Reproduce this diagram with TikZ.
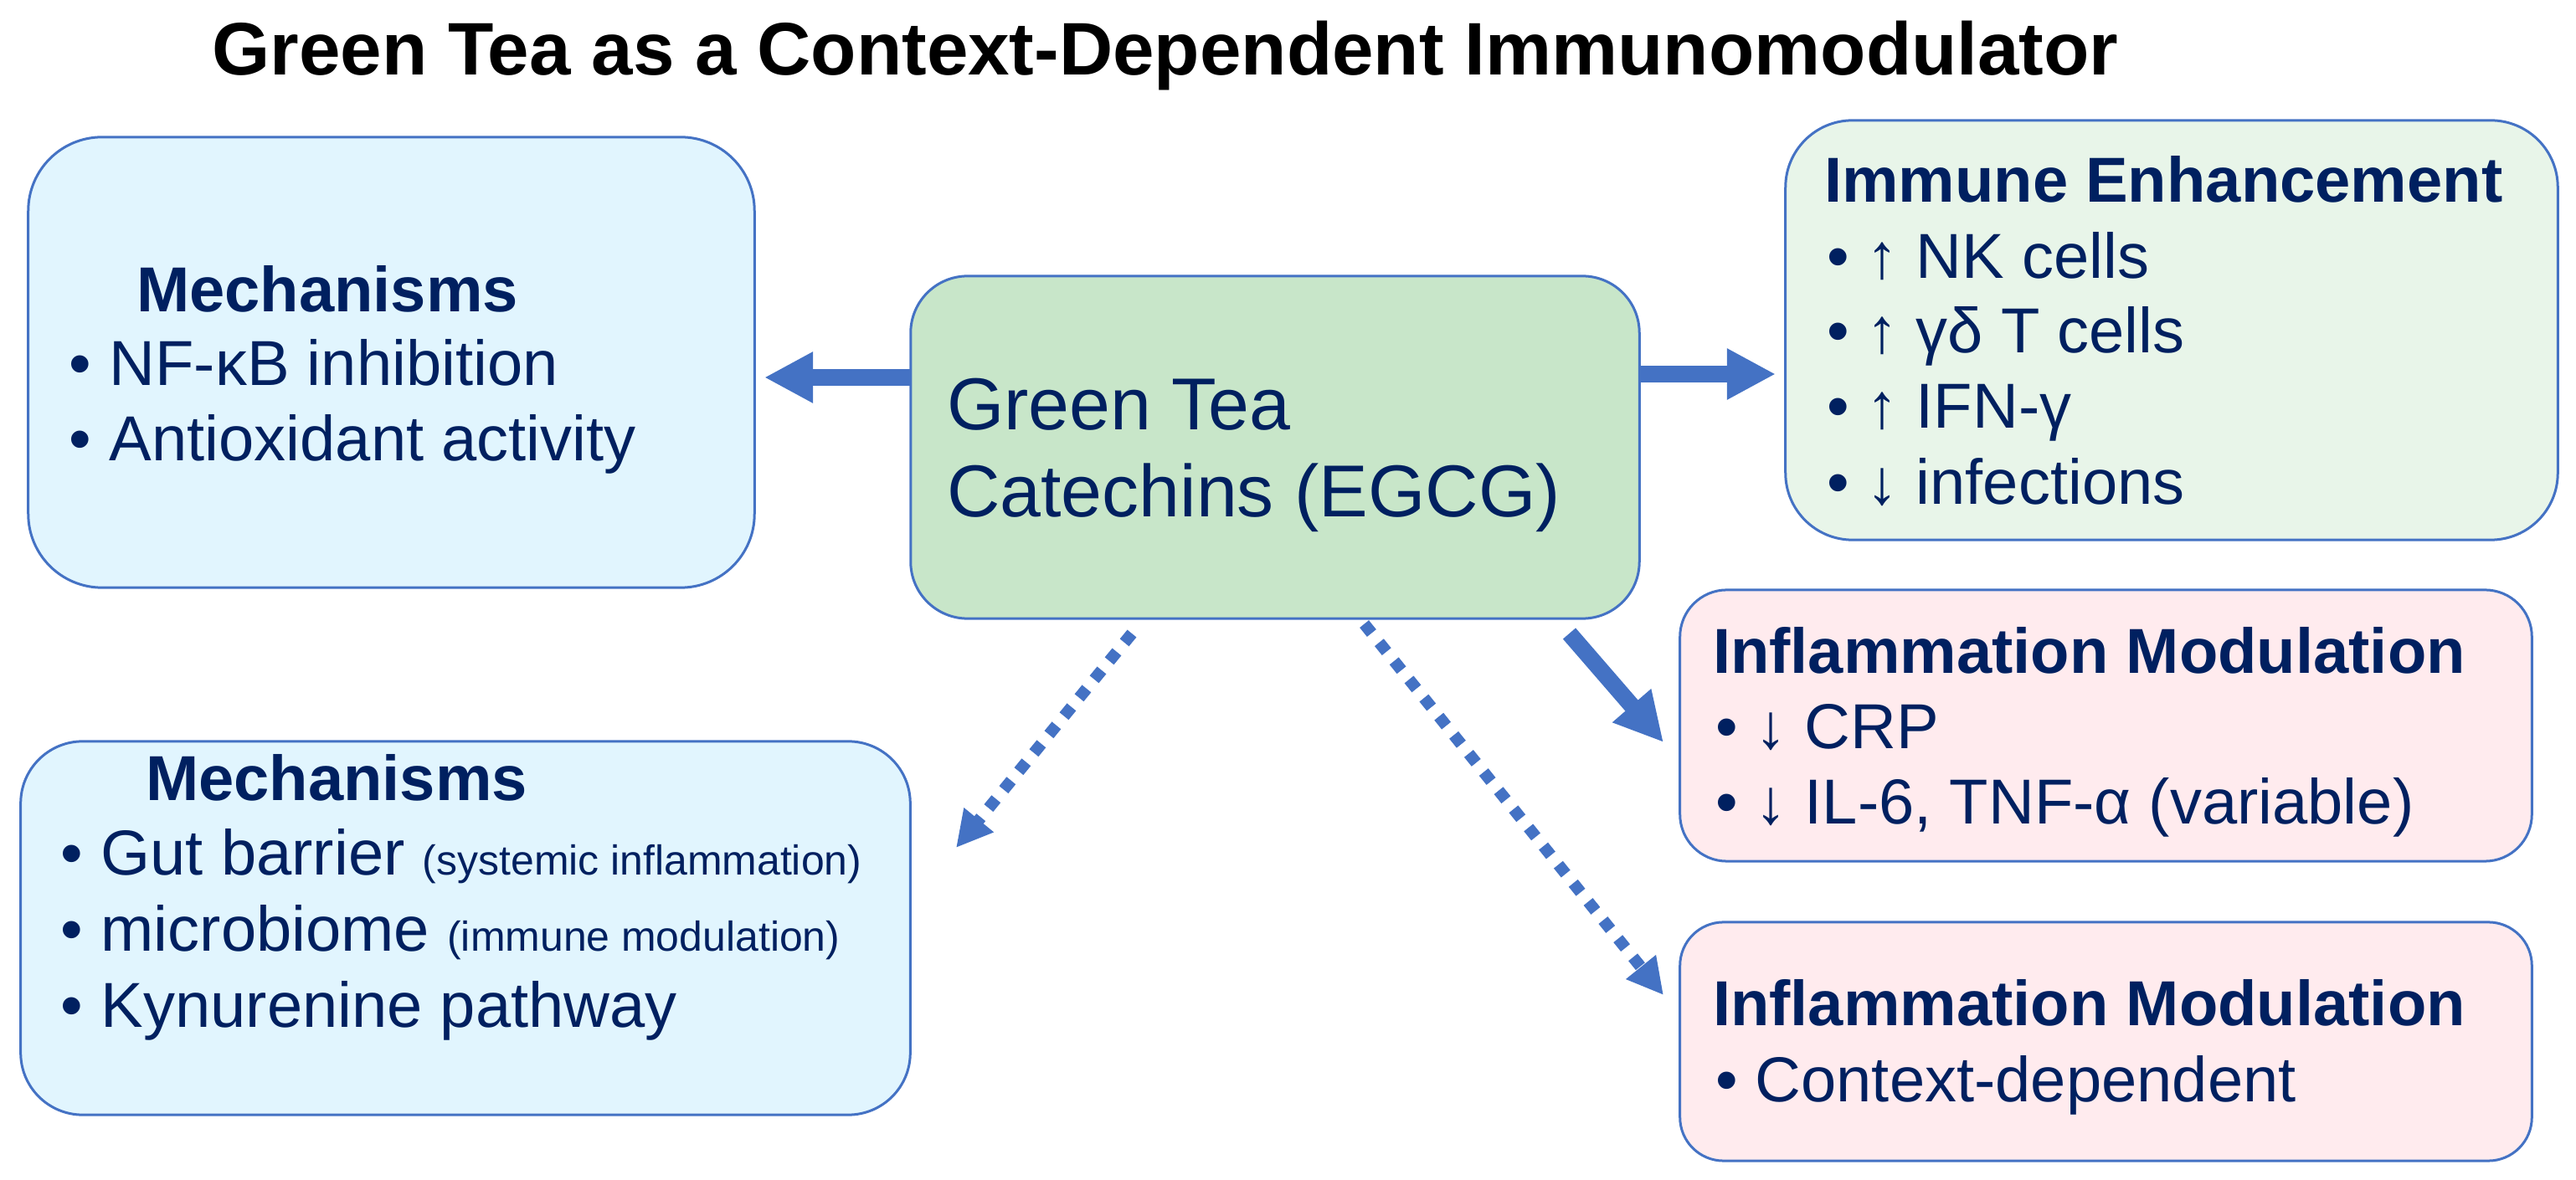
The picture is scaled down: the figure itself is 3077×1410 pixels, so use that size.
\documentclass[tikz,border=0pt]{standalone}
\usepackage{fontspec}
\setmainfont{Liberation Sans}
\usetikzlibrary{arrows.meta}
\definecolor{navy}{HTML}{002060}
\definecolor{bord}{HTML}{4472C4}
\definecolor{fblue}{HTML}{E1F5FE}
\definecolor{fgreen}{HTML}{C8E6C9}
\definecolor{fgreenl}{HTML}{E8F5E9}
\definecolor{fpink}{HTML}{FFEBEE}
\begin{document}
\begin{tikzpicture}[x=0.01cm,y=-0.01cm,
  box/.style={draw=bord, line width=0.03cm, inner sep=0pt, outer sep=0pt},
  txt/.style={anchor=base west, inner sep=0pt, outer sep=0pt, text=navy, font=\fontsize{21.6pt}{26pt}\selectfont},
  hd/.style={txt, font=\fontsize{21.6pt}{26pt}\selectfont\bfseries},
  bigtxt/.style={txt, font=\fontsize{25pt}{30pt}\selectfont},
  solidarrow/.style={draw=bord, line width=0.2cm, -{Triangle[length=0.58cm,width=0.57cm]}},
  dotarrow/.style={draw=bord, line width=0.14cm, dash pattern=on 0.14cm off 0.144cm, -{Triangle[length=0.43cm,width=0.43cm]}}
]
\useasboundingbox[fill=white] (0,0) rectangle (3077,1410);

% title
\node[anchor=base, inner sep=0pt, font=\fontsize{25.3pt}{30pt}\selectfont\bfseries] (title) at (1392,90) {Green Tea as a Context-Dependent Immunomodulator};

% boxes
\node[box, fill=fblue, minimum width=8.67cm, minimum height=5.38cm, rounded corners=0.88cm] (mechTop) at (467.5,433) {};
\node[box, fill=fgreen, minimum width=8.70cm, minimum height=4.09cm, rounded corners=0.68cm] (egcg) at (1523,534.5) {};
\node[box, fill=fgreenl, minimum width=9.22cm, minimum height=5.01cm, rounded corners=0.8cm] (immune) at (2594,394.5) {};
\node[box, fill=fblue, minimum width=10.62cm, minimum height=4.46cm, rounded corners=0.74cm] (mechBot) at (556,1109) {};
\node[box, fill=fpink, minimum width=10.17cm, minimum height=3.24cm, rounded corners=0.56cm] (inflA) at (2515.5,867) {};
\node[box, fill=fpink, minimum width=10.17cm, minimum height=2.85cm, rounded corners=0.52cm] (inflB) at (2515.5,1244.5) {};

% texts: top-left mechanisms
\node[hd] (mtHead) at (163,373) {Mechanisms};
\node[txt] (mt1) at (83,461) {• NF-κB inhibition};
\node[txt] (mt2) at (83,551) {• Antioxidant activity};

% center
\node[bigtxt] (eg1) at (1131,514) {Green Tea};
\node[bigtxt] (eg2) at (1131,618) {Catechins (EGCG)};

% immune enhancement
\node[hd] (imHead) at (2179,242) {Immune Enhancement};
\node[txt] (im1) at (2182,333) {• ↑ NK cells};
\node[txt] (im2) at (2182,422) {• ↑ γδ T cells};
\node[txt] (im3) at (2182,512) {• ↑ IFN-γ};
\node[txt] (im4) at (2182,603) {• ↓ infections};

% bottom-left mechanisms
\node[hd] (mbHead) at (174,957) {Mechanisms};
\node[txt] (mb1) at (73,1046) {• Gut barrier {\fontsize{14.2pt}{17pt}\selectfont (systemic inflammation)}};
\node[txt] (mb2) at (73,1137) {• microbiome {\fontsize{14.2pt}{17pt}\selectfont (immune modulation)}};
\node[txt] (mb3) at (73,1228) {• Kynurenine pathway};

% inflammation modulation A
\node[hd] (iaHead) at (2046,805) {Inflammation Modulation};
\node[txt] (ia1) at (2049,895) {• ↓ CRP};
\node[txt] (ia2) at (2049,985) {• ↓ IL-6, TNF-α (variable)};

% inflammation modulation B
\node[hd] (ibHead) at (2046,1226) {Inflammation Modulation};
\node[txt] (ib1) at (2049,1317) {• Context-dependent};

% connector end points
\coordinate (aL0) at (1088,451);
\coordinate (aL1) at (913,451);
\coordinate (aR0) at (1958,447);
\coordinate (aR1) at (2121,447);
\coordinate (aD0) at (1874.5,757);
\coordinate (aD1) at (1987,887);
\coordinate (dL0) at (1352,757);
\coordinate (dL1) at (1142,1013);
\coordinate (dR0) at (1629.6,745.6);
\coordinate (dR1) at (1987,1189);

% connectors
\draw[solidarrow] (aL0) -- (aL1);
\draw[solidarrow] (aR0) -- (aR1);
\draw[solidarrow] (aD0) -- (aD1);
\draw[dotarrow] (dL0) -- (dL1);
\draw[dotarrow] (dR0) -- (dR1);
\end{tikzpicture}
\end{document}
